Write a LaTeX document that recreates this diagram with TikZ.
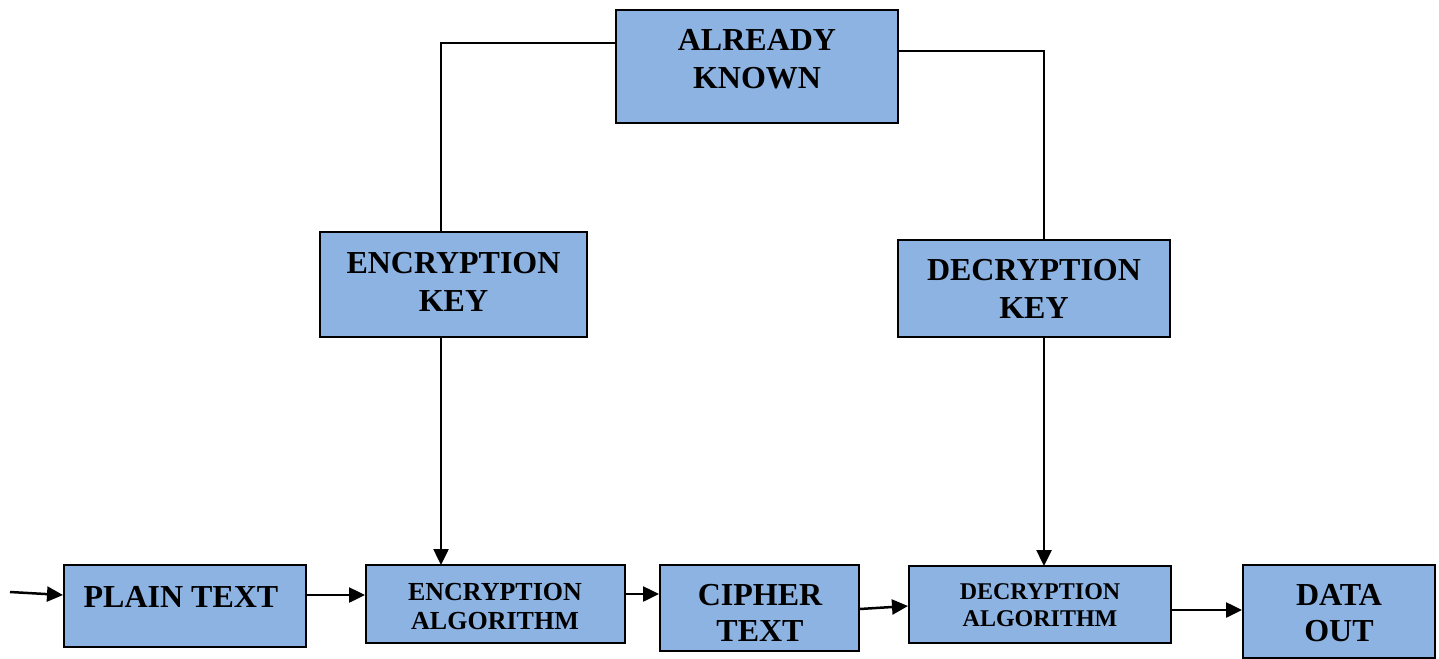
\documentclass[tikz,border=0pt]{standalone}
\usepackage{fontspec}
\setmainfont{Liberation Serif}
\usetikzlibrary{arrows.meta}
\definecolor{boxblue}{HTML}{8DB3E2}
\begin{document}
\begin{tikzpicture}[x=1pt,y=-1pt,
  box/.style={draw=black, line width=2pt, fill=boxblue, inner sep=0pt},
  big/.style={font=\bfseries\fontsize{32}{38}\selectfont, align=center, inner sep=0pt},
  bigs/.style={font=\bfseries\fontsize{32}{36}\selectfont, align=center, inner sep=0pt},
  enc/.style={font=\bfseries\fontsize{26}{29}\selectfont, align=center, inner sep=0pt},
  dec/.style={font=\bfseries\fontsize{24}{27}\selectfont, align=center, inner sep=0pt},
  thin/.style={draw=black, line width=1.6pt},
  arr/.style={draw=black, line width=2.5pt, -{Triangle[length=16pt,width=15pt]}}
]
\useasboundingbox (0,0) rectangle (1439,658);
\fill[white] (0,0) rectangle (1439,658);

% boxes
\node[box, minimum width=282, minimum height=113] (known) at (757,66.5) {};
\node[box, minimum width=267, minimum height=105] (enckey) at (453.5,284.5) {};
\node[box, minimum width=272, minimum height=97] (deckey) at (1034,288.5) {};
\node[box, minimum width=242, minimum height=82] (plain) at (185,606) {};
\node[box, minimum width=259, minimum height=78] (encalg) at (495.5,604) {};
\node[box, minimum width=199, minimum height=86] (cipher) at (759.5,608) {};
\node[box, minimum width=262, minimum height=77] (decalg) at (1040,604.5) {};
\node[box, minimum width=192, minimum height=93] (dataout) at (1339,611.5) {};

% texts
\node[big] (tknown) at (757,59) {ALREADY\\KNOWN};
\node[big] (tenckey) at (453.5,281.5) {ENCRYPTION\\KEY};
\node[big] (tdeckey) at (1034,289) {DECRYPTION\\KEY};
\node[big] (tplain) at (181,597) {PLAIN TEXT};
\node[enc] (tencalg) at (495,606.5) {ENCRYPTION\\ALGORITHM};
\node[bigs] (tcipher) at (760,613) {CIPHER\\TEXT};
\node[dec] (tdecalg) at (1040,605.5) {DECRYPTION\\ALGORITHM};
\node[bigs] (tdataout) at (1339,613) {DATA\\OUT};

% connectors
\coordinate (kl) at (441,43);
\coordinate (kr) at (1044,51);
\draw[thin] (known.west |- kl) -- (kl) -- (kl |- enckey.north);
\draw[thin] (known.east |- kr) -- (kr) -- (kr |- deckey.north);
\draw[arr] (441,337) -- (441,565);
\draw[arr] (1044,337) -- (1044,566);

\coordinate (in) at (10,592);
\draw[arr] (in) -- (plain.west |- 0,595);
\draw[arr] (plain.east |- 0,595) -- (encalg.west |- 0,595);
\draw[arr] (encalg.east |- 0,594) -- (cipher.west |- 0,594);
\draw[arr] (cipher.east |- 0,609) -- (decalg.west |- 0,606);
\draw[arr] (decalg.east |- 0,610) -- (dataout.west |- 0,610);
\end{tikzpicture}
\end{document}
